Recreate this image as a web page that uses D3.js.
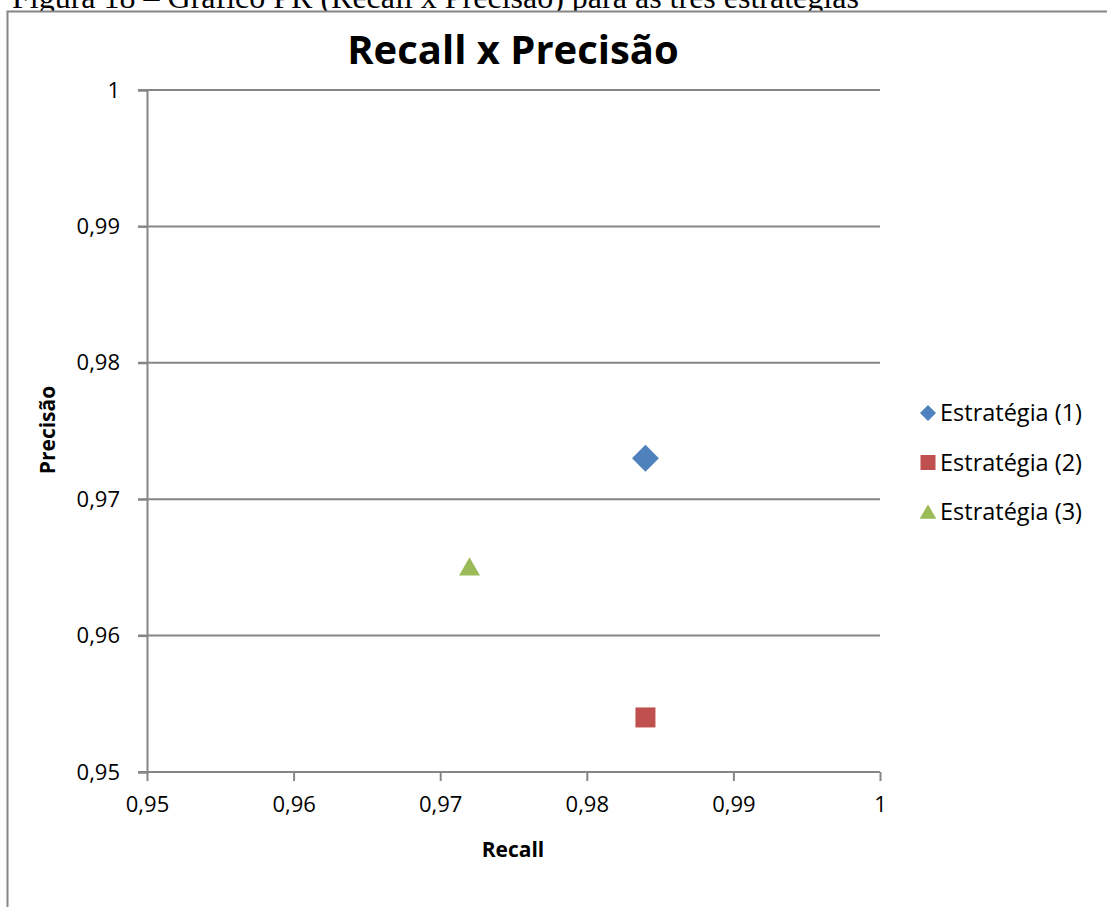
<!DOCTYPE html>
<html>
<head>
<meta charset="utf-8">
<script src="https://cdn.jsdelivr.net/npm/d3@7"></script>
<style>
  body { margin: 0; background: #fff; }
  text { font-family: "Open Sans", "Noto Sans", sans-serif; fill: #000; }
</style>
</head>
<body>
<svg id="chart" width="1107" height="907"></svg>
<script>
// data
const seriesNames = ["Estratégia (1)", "Estratégia (2)", "Estratégia (3)"];
const recallValues = [0.984, 0.984, 0.972];
const precisionValues = [0.973, 0.954, 0.965];
const seriesColors = ["#4F81BD", "#C0504D", "#9BBB59"];
const xTicks = [0.95, 0.96, 0.97, 0.98, 0.99, 1];
const yTicks = [0.95, 0.96, 0.97, 0.98, 0.99, 1];

const svg = d3.select("#chart");
const fmt = v => String(v).replace(".", ",");
const grey = "#868686";

// diamond = square turned 45 degrees
const shapes = [d3.symbolSquare, d3.symbolSquare, d3.symbolTriangle];
const turns = [45, 0, 0];

// caption of the figure, cut off at the top
svg.append("text")
    .attr("x", 12).attr("y", 8)
    .style("font-family", "'Liberation Serif', 'Times New Roman', serif")
    .style("font-size", "32px")
    .text("Figura 18 – Gráfico PR (Recall x Precisão) para as três estratégias");

// chart frame
svg.append("rect")
    .attr("x", 7.5).attr("y", 11.5)
    .attr("width", 1130).attr("height", 920)
    .attr("fill", "#fff")
    .attr("stroke", grey).attr("stroke-width", 2);

const plotLeft = 147, plotRight = 880, plotTop = 90, plotBottom = 772;
const x = d3.scaleLinear().domain([0.95, 1]).range([plotLeft, plotRight]);
const y = d3.scaleLinear().domain([0.95, 1]).range([plotBottom, plotTop]);

// horizontal gridlines
svg.append("g")
    .selectAll("line")
    .data(yTicks)
    .join("line")
    .attr("x1", plotLeft - 9).attr("x2", plotRight)
    .attr("y1", d => y(d)).attr("y2", d => y(d))
    .attr("stroke", grey).attr("stroke-width", 2);

// y axis
const yAxis = svg.append("g")
    .attr("transform", `translate(${plotLeft},0)`)
    .call(d3.axisLeft(y).tickValues(yTicks).tickFormat(fmt).tickSize(9).tickPadding(18));
// x axis
const xAxis = svg.append("g")
    .attr("transform", `translate(0,${plotBottom})`)
    .call(d3.axisBottom(x).tickValues(xTicks).tickFormat(fmt).tickSize(9).tickPadding(15));

[yAxis, xAxis].forEach(a => {
    a.selectAll(".domain").attr("stroke", grey).attr("stroke-width", 2);
    a.selectAll(".tick line").attr("stroke", grey).attr("stroke-width", 2);
    a.selectAll(".tick text")
        .style("font-family", "'Open Sans', sans-serif")
        .style("font-size", "22px")
        .attr("fill", "#000");
});
xAxis.select(".domain").attr("d", `M${plotLeft},0H${plotRight}`);

// title
svg.append("text")
    .attr("x", 513).attr("y", 64)
    .attr("text-anchor", "middle")
    .style("font-size", "40px").style("font-weight", "bold")
    .text("Recall x Precisão");

// axis titles
svg.append("text")
    .attr("x", 513).attr("y", 857)
    .attr("text-anchor", "middle")
    .style("font-size", "21px").style("font-weight", "bold")
    .text("Recall");
svg.append("text")
    .attr("transform", "translate(55,430) rotate(-90)")
    .attr("text-anchor", "middle")
    .style("font-size", "21px").style("font-weight", "bold")
    .text("Precisão");

// points
const pointSizes = [361, 400, 190];
svg.append("g")
    .selectAll("path")
    .data(seriesNames)
    .join("path")
    .attr("transform", (d, i) =>
        `translate(${x(recallValues[i])},${y(precisionValues[i]) + (i === 2 ? 2 : 0)}) rotate(${turns[i]})`)
    .attr("d", (d, i) => d3.symbol(shapes[i], pointSizes[i])())
    .attr("fill", (d, i) => seriesColors[i]);

// legend
const legend = svg.append("g").attr("transform", "translate(928,413)");
const rows = legend.selectAll("g")
    .data(seriesNames)
    .join("g")
    .attr("transform", (d, i) => `translate(0,${i * 49.5})`);
rows.append("path")
    .attr("d", (d, i) => d3.symbol(shapes[i], [128, 225, 120][i])())
    .attr("transform", (d, i) => `translate(0,${i === 2 ? 2 : 0}) rotate(${turns[i]})`)
    .attr("fill", (d, i) => seriesColors[i]);
rows.append("text")
    .attr("x", 12).attr("y", 8)
    .style("font-size", "23.5px")
    .text(d => d);
</script>
</body>
</html>
